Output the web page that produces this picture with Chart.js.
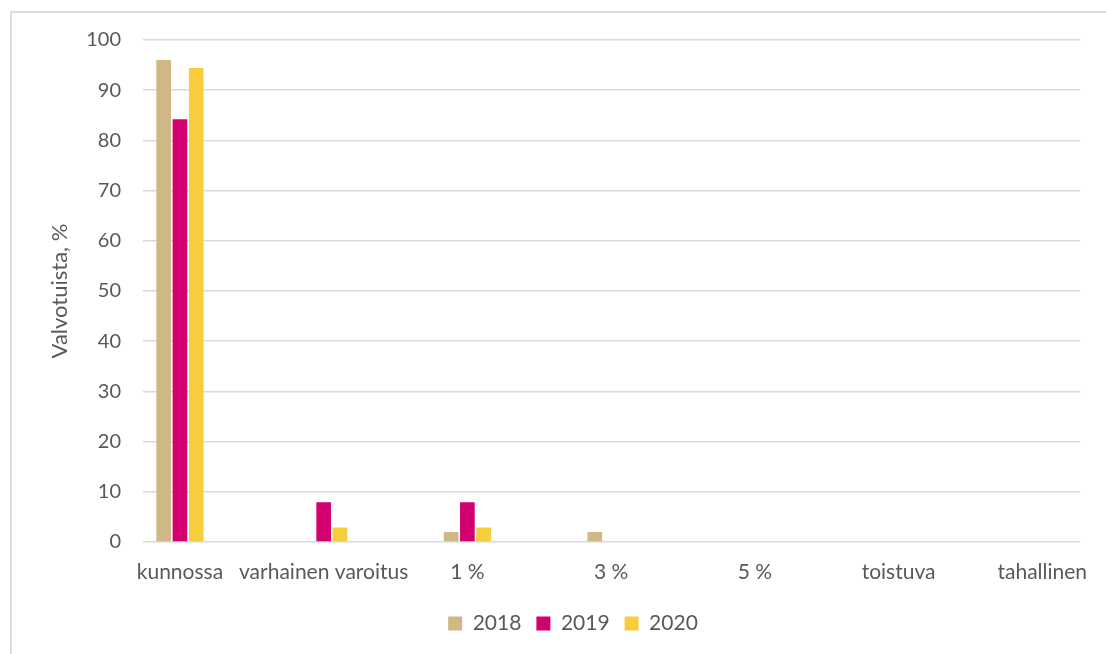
<!DOCTYPE html>
<html>
<head>
<meta charset="utf-8">
<script src="https://cdn.jsdelivr.net/npm/chart.js@4.4.0/dist/chart.umd.min.js"></script>
<style>
  html, body { margin: 0; padding: 0; background: #fff; width: 1106px; height: 654px; overflow: hidden; }
  #frame { position: absolute; left: 10px; top: 11px; width: 1200px; height: 800px; border-left: 2px solid #dcdcdc; border-top: 2px solid #dcdcdc; box-sizing: border-box; }
  #wrap { position: absolute; left: 0; top: 0; width: 1106px; height: 654px; }
</style>
</head>
<body>
<div id="frame"></div>
<div id="wrap"><canvas id="c" width="1106" height="654"></canvas></div>
<script>
const categories = ["kunnossa", "varhainen varoitus", "1 %", "3 %", "5 %", "toistuva", "tahallinen"];
const seriesNames = ["2018", "2019", "2020"];
const values2018 = [96.0, 0, 2.0, 2.0, 0, 0, 0];
const values2019 = [84.2, 7.9, 7.9, 0, 0, 0, 0];
const values2020 = [94.4, 2.9, 2.9, 0, 0, 0, 0];
const yTicks = [0, 10, 20, 30, 40, 50, 60, 70, 80, 90, 100];
const yTitle = "Valvotuista, %";

const colors = ["#cfb886", "#d3006f", "#f7cd3c"];
const FONT = "Lato, 'Open Sans', sans-serif";
const TXT = "#595959";

const legendShift = {
  id: "legendShift",
  afterLayout(chart) {
    if (chart.legend) { chart.legend.left += 10; chart.legend.right += 10; }
  }
};

new Chart(document.getElementById("c"), {
  type: "bar",
  data: {
    datasets: [values2018, values2019, values2020].map((v, i) => ({
      label: seriesNames[i],
      data: v.map((y, k) => ({ x: k, y: y })),
      backgroundColor: colors[i],
      borderWidth: 0,
      categoryPercentage: 0.34,
      barPercentage: 0.9
    }))
  },
  plugins: [legendShift],
  options: {
    responsive: false,
    animation: false,
    devicePixelRatio: 1,
    layout: { padding: { left: 43, right: 23, top: 40, bottom: 10 } },
    plugins: {
      tooltip: { enabled: false },
      legend: {
        position: "bottom",
        labels: {
          boxWidth: 14, boxHeight: 14, padding: 15,
          color: TXT, font: { family: FONT, size: 21 }
        }
      }
    },
    scales: {
      x: {
        type: "linear",
        offset: false,
        min: -0.257, max: 6.264,
        afterBuildTicks: s => { s.ticks = categories.map((c, k) => ({ value: k })); },
        grid: { display: false, drawTicks: false, offset: false },
        border: { display: false },
        ticks: {
          color: TXT, font: { family: FONT, size: 21 }, maxRotation: 0, minRotation: 0,
          autoSkip: false, padding: 18,
          callback: v => categories[v]
        },
        afterFit: s => { s.height = 56; }
      },
      y: {
        min: 0, max: 100,
        afterBuildTicks: s => { s.ticks = yTicks.map(v => ({ value: v })); },
        grid: { color: "#d9d9d9", lineWidth: 1.5, drawTicks: false },
        border: { display: false },
        ticks: { color: TXT, font: { family: FONT, size: 20 }, padding: 22 },
        title: { display: true, text: yTitle, color: TXT, font: { family: FONT, size: 22 }, padding: { bottom: 10 } },
        afterFit: s => { s.width = 100; }
      }
    }
  }
});
</script>
</body>
</html>
